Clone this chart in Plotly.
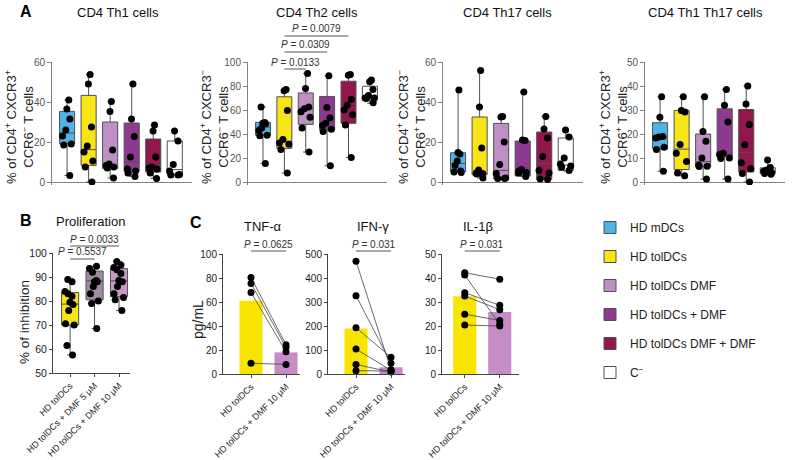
import plotly.graph_objects as go

W, H = 793, 460

# ---------------- DATA ----------------
groups = ["HD mDCs", "HD tolDCs", "HD tolDCs DMF", "HD tolDCs + DMF", "HD tolDCs DMF + DMF", "C<sup>−</sup>"]
group_colors = ["#4fb3e8", "#f7e517", "#bf90c5", "#8d3b91", "#92174f", "#ffffff"]

a_titles = ["CD4 Th1 cells", "CD4 Th2 cells", "CD4 Th17 cells", "CD4 Th1 Th17 cells"]
a_ytitles = [
    "% of CD4<sup>+</sup> CXCR3<sup>+</sup><br>CCR6<sup>−</sup> T cells",
    "% of CD4<sup>+</sup> CXCR3<sup>−</sup><br>CCR6<sup>−</sup> T cells",
    "% of CD4<sup>+</sup> CXCR3<sup>−</sup><br>CCR6<sup>+</sup> T cells",
    "% of CD4<sup>+</sup> CXCR3<sup>+</sup><br>CCR6<sup>+</sup> T cells",
]
a_ymax = [60, 100, 60, 50]
a_dtick = [20, 20, 20, 10]

th1_points = [
    [41, 36.5, 31.5, 26, 23, 19, 18.5, 3.3],
    [53.7, 49, 27.5, 18, 15, 10.5, 7.5, 0],
    [40.3, 35.3, 16, 9, 8.3, 7.5, 7, 2],
    [49, 31.5, 22.8, 12.5, 6.5, 5.5, 4.5, 2.8],
    [28.5, 25.5, 12.5, 7.5, 7, 6.5, 4.5, 1.8],
    [25.5, 20.5, 8.8, 5.5, 3.8, 3.5, 3.5],
]
th1_min = [3.3, 0, 2, 2.8, 1.8, 3.5]
th1_q1 = [19.2, 8.3, 6.7, 5.3, 5, 3.7]
th1_med = [24.5, 16.2, 7.5, 10, 8.3, 6.2]
th1_q3 = [35.3, 43.3, 30, 29.5, 21.5, 20.5]
th1_max = [41, 53.7, 40.3, 49, 28.5, 25.5]

th2_points = [
    [62.5, 49.5, 49, 48.5, 45, 43, 39, 38.5, 15.5],
    [77, 76, 59.5, 35.5, 32.5, 31.5, 27, 7.5],
    [90.5, 78, 62.5, 61, 58.5, 54, 45, 25],
    [88.5, 62, 53.5, 49, 47, 44, 42, 13.5],
    [89.5, 89, 69, 64, 60, 56, 47.5, 20.5],
    [85, 83.5, 77, 72, 70, 70, 69.5, 66],
]
th2_min = [15.5, 7.5, 25, 13.5, 20.5, 65.5]
th2_q1 = [39, 28, 48, 43.3, 48.9, 69]
th2_med = [45.8, 34, 61.5, 50.3, 62, 71]
th2_q3 = [49.7, 71, 74.2, 71.3, 84, 79.8]
th2_max = [62.5, 77, 90.5, 88.5, 89.5, 85]

th17_points = [
    [46, 14.8, 14, 10.5, 8.3, 5.5, 5, 4.8],
    [55.8, 37.5, 17, 6, 4.5, 4.2, 4, 2],
    [32.8, 32.5, 20, 8.7, 4.2, 2, 1.8, 1.8],
    [45, 21, 20.8, 6.3, 5.5, 4.8, 4.5, 2.8],
    [32.8, 26.5, 22, 12.8, 5.8, 4.5, 1.5, 1.2],
    [26, 22.5, 12, 9, 8, 7.5, 5.8],
]
th17_min = [4.8, 2, 1.5, 2.8, 1.2, 5.5]
th17_q1 = [5.2, 3.6, 1.6, 3, 1.3, 5.8]
th17_med = [9.3, 4.3, 5.8, 6.2, 9.2, 8.5]
th17_q3 = [14.6, 32.5, 29.3, 20.5, 25, 22]
th17_max = [46, 55.8, 32.8, 45, 32.8, 26]

th1th17_points = [
    [35.5, 27, 19, 18.7, 18.3, 14.5, 13.5, 4.5],
    [35.5, 29.8, 29.2, 15.6, 12, 8.5, 3.8, 2.6],
    [35.5, 21, 17, 10, 7, 6.6, 6.5, 1.2],
    [38.5, 32, 25, 12, 11.5, 10, 9.8, 1.2],
    [40, 32.5, 24, 15.5, 8, 5.5, 3.5, 0],
    [9.2, 6, 5, 4.5, 4, 3.5, 3.2],
]
th1th17_min = [4.5, 2.6, 1.2, 1.2, 0, 3.2]
th1th17_q1 = [13.8, 5.2, 6.5, 10.5, 4.2, 3.5]
th1th17_med = [18.4, 13.7, 8.5, 11.5, 12.4, 4.4]
th1th17_q3 = [24.7, 29.8, 20, 30.5, 30.2, 5.9]
th1th17_max = [35.5, 35.5, 35.5, 38.5, 40, 9.2]

a_pvals = ["0.0133", "0.0309", "0.0079"]
a_pairs = [(1, 2), (1, 3), (1, 4)]

# Panel B
b_title = "Proliferation"
b_labels = ["HD tolDCs", "HD tolDCs + DMF 5 μM", "HD tolDCs + DMF 10 μM"]
b_colors = ["#f7e517", "#a18aa3", "#c896c8"]
b_points = [
    [89, 88, 84, 83, 82, 79.5, 78.5, 76, 70.5, 70, 61.5, 57.5],
    [94.5, 93.5, 92, 88.5, 88, 88, 86, 83, 80, 79, 68.5],
    [96.5, 95, 94, 93, 91.5, 88.5, 88, 86, 83, 81.5, 80.5, 76],
]
b_min = [57.5, 68.5, 76]
b_q1 = [70, 80.5, 81.8]
b_med = [78.7, 88.4, 88.4]
b_q3 = [83.5, 92.5, 93.5]
b_max = [89, 94.5, 96.5]
b_pvals = ["0.5537", "0.0033"]
b_pairs = [(0, 1), (0, 2)]

# Panel C
c_titles = ["TNF-α", "IFN-γ", "IL-1β"]
c_labels = ["HD tolDCs", "HD tolDCs + DMF 10 μM"]
c_colors = ["#f7e500", "#c68cc6"]
c_before = [
    [80.5, 75.5, 68, 9],
    [470, 326, 193, 104, 40, 14],
    [42.2, 41.2, 33.9, 32.5, 24.9, 20.4],
]
c_after = [
    [24.4, 22.2, 18.6, 8],
    [18, 45, 70, 15, 8, 12],
    [39.5, 20.7, 28.6, 26.8, 22.3, 20],
]
c_means = [[61, 18], [190, 28], [32.4, 25.8]]
c_ymax = [100, 500, 50]
c_dtick = [20, 100, 10]
c_pvals = ["0.0625", "0.031", "0.031"]

# ---------------- LAYOUT HELPERS ----------------
FONT = "Liberation Sans, Arial, Helvetica, sans-serif"

def px_x(p):
    return p / W

def px_y(p):
    return 1 - p / H

fig = go.Figure()
layout = dict(
    template="none",
    width=W, height=H, margin=dict(l=0, r=0, t=0, b=0, pad=0, autoexpand=False),
    paper_bgcolor="white", plot_bgcolor="white",
    font=dict(family=FONT, color="#222"),
    boxmode="overlay", barmode="overlay",
    showlegend=True,
)
annotations = []
shapes = []

def axis_name(i):
    return "" if i == 1 else str(i)

def note(text, x, y, size, color="#222", angle=0, xref="paper"):
    annotations.append(dict(text=text, x=x, y=y, xref=xref, yref="paper", showarrow=False,
                            xanchor="center", yanchor="middle", textangle=angle,
                            font=dict(size=size, color=color, family=FONT)))

def add_box(ax, pos, lo, q1, med, q3, hi, color, width, name=None, legend=False):
    n = axis_name(ax)
    fig.add_trace(go.Box(
        x=[pos], lowerfence=[lo], q1=[q1], median=[med], q3=[q3], upperfence=[hi],
        fillcolor=color, line=dict(color="#505050", width=1), whiskerwidth=0.35,
        width=width, boxpoints=False, xaxis="x" + n, yaxis="y" + n,
        name=name or "box", showlegend=legend, legendgroup=name, hoverinfo="skip",
    ))

def add_points(ax, pos, pts, width):
    n = axis_name(ax)
    fig.add_trace(go.Box(
        x=[pos] * len(pts), y=pts, boxpoints="all", jitter=0.85, pointpos=0,
        fillcolor="rgba(0,0,0,0)", line=dict(color="rgba(0,0,0,0)", width=0),
        marker=dict(color="black", size=7), width=width, showwhiskers=False,
        xaxis="x" + n, yaxis="y" + n, showlegend=False, hoverinfo="skip", name="pts",
    ))

# ---------------- PANEL A ----------------
A_x = [(52, 192), (248, 387), (443, 583), (645, 785)]
A_top, A_bot, A_pad = 62, 182, 3
A_xr = [-0.7, 5.8]
A_title_x = [118, 317, 507, 705]
A_ytitle_x = [19, 214, 411, 613]

a_sets = [
    (th1_points, th1_min, th1_q1, th1_med, th1_q3, th1_max),
    (th2_points, th2_min, th2_q1, th2_med, th2_q3, th2_max),
    (th17_points, th17_min, th17_q1, th17_med, th17_q3, th17_max),
    (th1th17_points, th1th17_min, th1th17_q1, th1th17_med, th1th17_q3, th1th17_max),
]

for k in range(4):
    ax = k + 1
    pts, mn, q1, md, q3, mx = a_sets[k]
    for g in range(6):
        add_box(ax, g, mn[g], q1[g], md[g], q3[g], mx[g], group_colors[g], 0.7,
                name=groups[g], legend=(k == 0))
        add_points(ax, g, pts[g], 0.7)
    ymax = a_ymax[k]
    upp = ymax / (A_bot - A_top)
    n = axis_name(ax)
    layout["xaxis" + n] = dict(domain=[px_x(A_x[k][0]), px_x(A_x[k][1])], range=A_xr,
                               showline=False, showticklabels=False, showgrid=False,
                               zeroline=False, ticks="", anchor="y" + n, automargin=False)
    layout["yaxis" + n] = dict(domain=[px_y(A_bot + A_pad), px_y(A_top)],
                               range=[-A_pad * upp, ymax], tickmode="linear", tick0=0,
                               dtick=a_dtick[k], ticks="outside", ticklen=4,
                               tickcolor="#808080", showline=True, linecolor="#808080",
                               linewidth=1, showgrid=False, zeroline=True,
                               zerolinecolor="#808080", zerolinewidth=1,
                               tickfont=dict(size=10, color="#555"), anchor="x" + n,
                               automargin=False)
    note(a_titles[k], px_x(A_title_x[k]), px_y(13), 13, "#111")
    note(a_ytitles[k], px_x(A_ytitle_x[k]), px_y(127), 13, "#222", angle=-90)

note("<b>A</b>", px_x(26), px_y(12), 16, "black")

# P values in Th2
A_p_lines = [69, 52, 36]
for (a, b), p, ly in zip(a_pairs, a_pvals, A_p_lines):
    shapes.append(dict(type="line", xref="x2", yref="paper", x0=a, x1=b,
                       y0=px_y(ly), y1=px_y(ly), line=dict(color="#555", width=1)))
    note("<i>P</i> = " + p, (a + b) / 2, px_y(ly - 7), 10, "#333", xref="x2")

# ---------------- PANEL B ----------------
B_x = (53, 130)
B_top, B_bot = 253, 373
for g in range(3):
    add_box(5, g, b_min[g], b_q1[g], b_med[g], b_q3[g], b_max[g], b_colors[g], 0.7)
    add_points(5, g, b_points[g], 0.7)
layout["xaxis5"] = dict(domain=[px_x(B_x[0]), px_x(B_x[1])], range=[-0.7, 2.45],
                        tickmode="array", tickvals=[0, 1, 2], ticktext=b_labels,
                        tickangle=-45, ticks="outside", ticklen=3, tickcolor="#444",
                        showline=True, linecolor="#444", linewidth=1, showgrid=False,
                        zeroline=False, tickfont=dict(size=9, color="#222"), anchor="y5",
                        automargin=False)
layout["yaxis5"] = dict(domain=[px_y(B_bot), px_y(B_top)], range=[50, 100], tickmode="linear",
                        tick0=50, dtick=10, ticks="outside", ticklen=3, tickcolor="#444",
                        showline=True, linecolor="#444", linewidth=1, showgrid=False,
                        zeroline=False, tickfont=dict(size=10.5, color="#222"), anchor="x5",
                        automargin=False)
note("<b>B</b>", px_x(26), px_y(220), 16, "black")
note(b_title, px_x(90), px_y(221), 13, "#111")
note("% of inhibition", px_x(24), px_y(322), 13.5, "#222", angle=-90)
B_p_lines = [259, 246]
for (a, b), p, ly in zip(b_pairs, b_pvals, B_p_lines):
    shapes.append(dict(type="line", xref="x5", yref="paper", x0=a, x1=b,
                       y0=px_y(ly), y1=px_y(ly), line=dict(color="#555", width=1)))
    note("<i>P</i> = " + p, (a + b) / 2, px_y(ly - 7), 10, "#333", xref="x5")

# ---------------- PANEL C ----------------
C_x = [(223, 300), (328, 405), (442, 519)]
C_xr = [[-0.8, 1.4], [-0.8, 1.4], [-0.65, 1.55]]
C_top, C_bot = 254, 374
C_title_x = [263, 373, 478]
for k in range(3):
    ax = 6 + k
    n = axis_name(ax)
    fig.add_trace(go.Bar(x=[0, 1], y=c_means[k], marker=dict(color=c_colors, line=dict(width=0)),
                         width=0.66, xaxis="x" + n, yaxis="y" + n, showlegend=False,
                         hoverinfo="skip"))
    for b0, b1 in zip(c_before[k], c_after[k]):
        fig.add_trace(go.Scatter(x=[0, 1], y=[b0, b1], mode="lines+markers",
                                 line=dict(color="#444", width=0.8),
                                 marker=dict(color="black", size=7), cliponaxis=False,
                                 xaxis="x" + n, yaxis="y" + n, showlegend=False,
                                 hoverinfo="skip"))
    layout["xaxis" + n] = dict(domain=[px_x(C_x[k][0]), px_x(C_x[k][1])], range=C_xr[k],
                               tickmode="array", tickvals=[0, 1], ticktext=c_labels,
                               tickangle=-45, ticks="outside", ticklen=3, tickcolor="#444",
                               showline=True, linecolor="#444", linewidth=1, showgrid=False,
                               zeroline=False, tickfont=dict(size=9, color="#222"),
                               anchor="y" + n, automargin=False)
    layout["yaxis" + n] = dict(domain=[px_y(C_bot), px_y(C_top)], range=[0, c_ymax[k]],
                               tickmode="linear", tick0=0, dtick=c_dtick[k], ticks="outside",
                               ticklen=3, tickcolor="#444", showline=True, linecolor="#444",
                               linewidth=1, showgrid=False, zeroline=False,
                               tickfont=dict(size=10, color="#222"), anchor="x" + n,
                               automargin=False)
    note(c_titles[k], px_x(C_title_x[k]), px_y(226), 13, "#111")
    shapes.append(dict(type="line", xref="x" + n, yref="paper", x0=0, x1=1,
                       y0=px_y(251), y1=px_y(251), line=dict(color="#555", width=1)))
    note("<i>P</i> = " + c_pvals[k], 0.5, px_y(244), 10, "#333", xref="x" + n)

note("<b>C</b>", px_x(196), px_y(222), 16, "black")
note("pg/mL", px_x(198), px_y(320), 14, "#222", angle=-90)

layout["legend"] = dict(x=px_x(590), y=px_y(213), xanchor="left", yanchor="top",
                        font=dict(size=12, color="#222", family=FONT), tracegroupgap=10,
                        bgcolor="rgba(0,0,0,0)", itemclick=False)
layout["annotations"] = annotations
layout["shapes"] = shapes
fig.update_layout(**layout)

fig.write_html("out.html", config={"displayModeBar": False},
               post_script="document.body.style.margin='0px';")
